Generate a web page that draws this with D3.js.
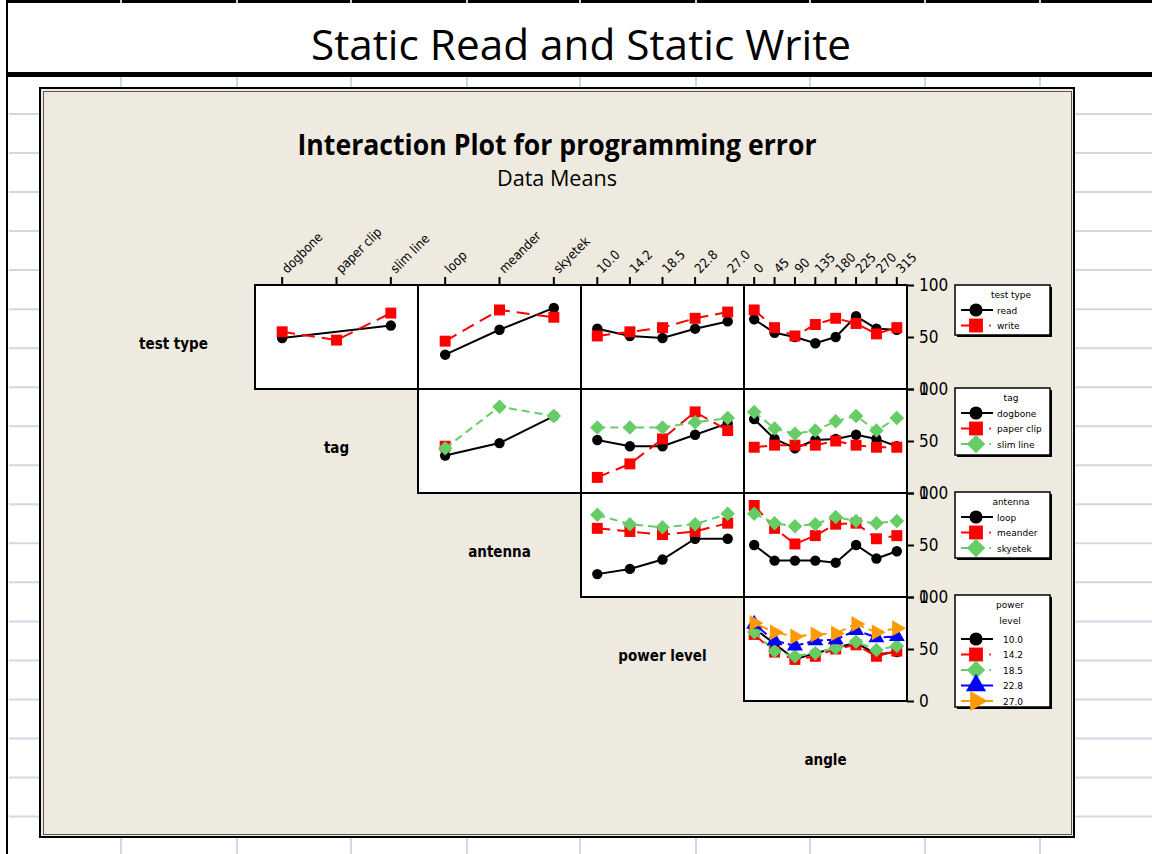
<!DOCTYPE html>
<html>
<head>
<meta charset="utf-8">
<script src="https://cdn.jsdelivr.net/npm/d3@7"></script>
<style>
  body { margin: 0; background: #fff; }
  svg { display: block; }
</style>
</head>
<body>
<div id="chart"></div>
<script>
// factors and their levels
const factorNames = ["test type", "tag", "antenna", "power level", "angle"];
const testTypeLevels = ["read", "write"];
const tagLevels = ["dogbone", "paper clip", "slim line"];
const antennaLevels = ["loop", "meander", "skyetek"];
const powerLevels = ["10.0", "14.2", "18.5", "22.8", "27.0"];
const angleLevels = ["0", "45", "90", "135", "180", "225", "270", "315"];
const axisTicks = [0, 50, 100];

// data means, one row per level of the trace factor (null = no data)
const typeByTag = [[49, null, 61], [55, 47, 73]];
const typeByAntenna = [[33, 57, 78], [46, 76, 69]];
const typeByPower = [[58, 51, 49, 58, 65], [51, 55, 59, 68, 74]];
const typeByAngle = [[67, 54, 50, 44, 50, 70, 58, 57], [76, 59, 51, 62, 68, 63, 53, 59]];
const tagByAntenna = [[36, 48, 74], [45, null, null], [43, 83, 74]];
const tagByPower = [[51, 45, 45, 56, 67], [15, 28, 52, 78, 60], [63, 63, 63, 68, 72]];
const tagByAngle = [[71, 52, 43, 51, 52, 56, 52, 45], [44, 46, 46, 46, 50, 46, 44, 44], [78, 62, 57, 60, 69, 74, 60, 72]];
const antennaByPower = [[22, 27, 36, 56, 56], [66, 63, 60, 63, 71], [79, 70, 67, 70, 80]];
const antennaByAngle = [[50, 35, 35, 35, 33, 50, 37, 44], [88, 66, 51, 59, 70, 71, 56, 59], [80, 71, 68, 70, 77, 73, 71, 73]];
const powerByAngle = [
  [70, 55, 40, 46, 51, 56, 45, 47],
  [64, 47, 40, 43, 50, 54, 43, 48],
  [66, 48, 43, 46, 51, 57, 49, 53],
  [74, 58, 53, 58, 59, 68, 61, 62],
  [75, 66, 62, 64, 65, 74, 66, 70]
];

const levelsByFactor = [testTypeLevels, tagLevels, antennaLevels, powerLevels, angleLevels];
const panelData = [
  [null, typeByTag, typeByAntenna, typeByPower, typeByAngle],
  [null, null, tagByAntenna, tagByPower, tagByAngle],
  [null, null, null, antennaByPower, antennaByAngle],
  [null, null, null, null, powerByAngle]
];

// diamond = square turned 45 degrees
const styles = [
  {color: "#000000", dash: null, symbol: d3.symbolCircle, size: 85, rotate: 0},
  {color: "#FF0000", dash: "13,7", symbol: d3.symbolSquare, size: 120, rotate: 0},
  {color: "#66CC66", dash: "8,5", symbol: d3.symbolSquare, size: 105, rotate: 45},
  {color: "#0000FF", dash: "16,4", symbol: d3.symbolTriangle, size: 110, rotate: 0},
  {color: "#FF9900", dash: "15,5", symbol: d3.symbolTriangle, size: 110, rotate: 90}
];

const W = 1152, H = 854;
const svg = d3.select("#chart").append("svg").attr("width", W).attr("height", H);

// ---- spreadsheet background ----
const gridX = [121, 237, 351, 467, 580, 696, 810, 925, 1040];
const gridY = d3.range(19).map(k => 114 + k * 39.03);
const gridColor = "#D0D7E5";

svg.selectAll(".gy").data(gridY).enter().append("line")
  .attr("x1", 9).attr("x2", W).attr("y1", d => d).attr("y2", d => d)
  .attr("stroke", gridColor).attr("stroke-width", 2);
svg.selectAll(".gx").data(gridX).enter().append("line")
  .attr("x1", d => d).attr("x2", d => d).attr("y1", 77).attr("y2", H)
  .attr("stroke", gridColor).attr("stroke-width", 2);

// top edge + left edge + title bar
svg.append("rect").attr("x", 7).attr("y", 0).attr("width", W - 7).attr("height", 3).attr("fill", "#000");
svg.selectAll(".notch").data(gridX).enter().append("rect")
  .attr("x", d => d - 1).attr("y", 0).attr("width", 2).attr("height", 3).attr("fill", "#ccd3e0");
svg.append("rect").attr("x", 6).attr("y", 0).attr("width", 2).attr("height", H).attr("fill", "#000");
svg.append("rect").attr("x", 7).attr("y", 72).attr("width", W - 7).attr("height", 5).attr("fill", "#000");

svg.append("text")
  .attr("x", 581).attr("y", 60)
  .attr("text-anchor", "middle")
  .attr("font-family", "'Open Sans', 'Noto Sans', sans-serif")
  .attr("font-size", 42)
  .attr("textLength", 540).attr("lengthAdjust", "spacingAndGlyphs")
  .text("Static Read and Static Write");

// ---- chart frame ----
svg.append("rect").attr("x", 40).attr("y", 88).attr("width", 1034).attr("height", 749)
  .attr("fill", "#EEEAE0").attr("stroke", "#000").attr("stroke-width", 2);
svg.append("rect").attr("x", 43.5).attr("y", 91.5).attr("width", 1028).attr("height", 743)
  .attr("fill", "none").attr("stroke", "#555").attr("stroke-width", 1);

svg.append("text")
  .attr("x", 557).attr("y", 155)
  .attr("text-anchor", "middle")
  .attr("font-family", "'Open Sans', 'Noto Sans', sans-serif")
  .attr("font-weight", "bold").attr("font-size", 28)
  .attr("textLength", 519).attr("lengthAdjust", "spacingAndGlyphs")
  .text("Interaction Plot for programming error");
svg.append("text")
  .attr("x", 557).attr("y", 186)
  .attr("text-anchor", "middle")
  .attr("font-family", "'Open Sans', 'Noto Sans', sans-serif")
  .attr("font-size", 22)
  .attr("textLength", 120).attr("lengthAdjust", "spacingAndGlyphs")
  .text("Data Means");

// ---- panel matrix ----
const x0 = 92, y0 = 285, cellW = 163, cellH = 104;
const y = d3.scaleLinear().domain([0, 100]).range([cellH, 0]);
const axisFont = "'DejaVu Sans Condensed', 'DejaVu Sans', sans-serif";

const xScales = levelsByFactor.map(lv => d3.scalePoint().domain(lv).range([0, cellW]).padding(0.5));

// diagonal factor labels
svg.selectAll(".flabel").data(factorNames).enter().append("text")
  .attr("x", (d, i) => x0 + cellW * i + cellW / 2)
  .attr("y", (d, i) => y0 + cellH * i + cellH / 2 + 12)
  .attr("text-anchor", "middle")
  .attr("font-family", "'Liberation Sans Narrow', 'DejaVu Sans Condensed', sans-serif")
  .attr("font-weight", "bold").attr("font-size", 15)
  .text(d => d);

panelData.forEach((row, i) => {
  row.forEach((means, j) => {
    if (!means) return;
    const xs = xScales[j];
    const g = svg.append("g")
      .attr("transform", "translate(" + (x0 + cellW * j) + "," + (y0 + cellH * i) + ")");

    g.append("rect").attr("width", cellW).attr("height", cellH)
      .attr("fill", "#fff").attr("stroke", "#000").attr("stroke-width", 2);

    means.forEach((vals, k) => {
      const st = styles[k];
      const pts = vals.map((v, n) => ({v: v, lvl: levelsByFactor[j][n]}))
        .filter(d => d.v !== null);
      g.append("path")
        .datum(pts.map(d => [xs(d.lvl), y(d.v)]))
        .attr("d", d3.line())
        .attr("fill", "none")
        .attr("stroke", st.color).attr("stroke-width", 2)
        .attr("stroke-dasharray", st.dash);
      g.selectAll(".m" + k).data(pts).enter().append("path")
        .attr("d", d3.symbol().type(st.symbol).size(st.size))
        .attr("transform", d => "translate(" + xs(d.lvl) + "," + y(d.v) + ") rotate(" + st.rotate + ")")
        .attr("fill", st.color);
    });

    // top axis on first row
    if (i === 0) {
      const top = g.append("g");
      top.selectAll("line").data(levelsByFactor[j]).enter().append("line")
        .attr("x1", d => xs(d)).attr("x2", d => xs(d))
        .attr("y1", 0).attr("y2", -8)
        .attr("stroke", "#000").attr("stroke-width", 2);
      top.selectAll("text").data(levelsByFactor[j]).enter().append("text")
        .attr("transform", d => "translate(" + (xs(d) + 5) + ",-11) rotate(-45)")
        .attr("font-family", axisFont).attr("font-size", 13)
        .text(d => d);
    }

    // right axis on last column
    if (j === 4) {
      g.append("g")
        .attr("transform", "translate(" + cellW + ",0)")
        .call(d3.axisRight(y).tickValues(axisTicks).tickSize(7).tickPadding(5).tickSizeOuter(0))
        .call(a => a.select(".domain").remove())
        .call(a => a.selectAll("line").attr("stroke-width", 2))
        .call(a => a.selectAll("text").attr("font-family", axisFont).attr("font-size", 17).attr("fill", "#000"));
    }
  });
});

// ---- legends ----
const legendTops = [285, 388, 492, 595];
const legendHeights = [50, 67, 66, 112];
const legendFont = "'DejaVu Sans', sans-serif";

legendTops.forEach((ly, i) => {
  const lg = svg.append("g").attr("transform", "translate(955," + ly + ")");
  lg.append("rect").attr("x", 2).attr("y", 2).attr("width", 95).attr("height", legendHeights[i]).attr("fill", "#000");
  lg.append("rect").attr("width", 95).attr("height", legendHeights[i])
    .attr("fill", "#fff").attr("stroke", "#000").attr("stroke-width", 1.5);

  const titleLines = i === 3 ? ["power", "level"] : [factorNames[i]];
  titleLines.forEach((t, n) => {
    lg.append("text")
      .attr("x", i === 3 ? 55 : 56).attr("y", 13 + n * 16)
      .attr("text-anchor", "middle")
      .attr("font-family", legendFont).attr("font-size", 9)
      .text(t);
  });

  const first = i === 3 ? 44 : 25;
  const textX = i === 3 ? 48 : 42;
  levelsByFactor[i].forEach((lvl, k) => {
    const st = styles[k];
    const iy = first + k * 15.5;
    if (st.dash && k < 3) {
      lg.append("line").attr("x1", 6).attr("x2", 19).attr("y1", iy).attr("y2", iy)
        .attr("stroke", st.color).attr("stroke-width", 2);
      lg.append("circle").attr("cx", 35).attr("cy", iy).attr("r", 1).attr("fill", st.color);
    } else {
      lg.append("line").attr("x1", 6).attr("x2", 38).attr("y1", iy).attr("y2", iy)
        .attr("stroke", st.color).attr("stroke-width", 2);
    }
    lg.append("path")
      .attr("d", d3.symbol().type(st.symbol).size(st.size * 1.6))
      .attr("transform", "translate(21," + iy + ") rotate(" + st.rotate + ")")
      .attr("fill", st.color);
    lg.append("text")
      .attr("x", textX).attr("y", iy + 3.5)
      .attr("font-family", legendFont).attr("font-size", 9)
      .text(lvl);
  });
});
</script>
</body>
</html>
